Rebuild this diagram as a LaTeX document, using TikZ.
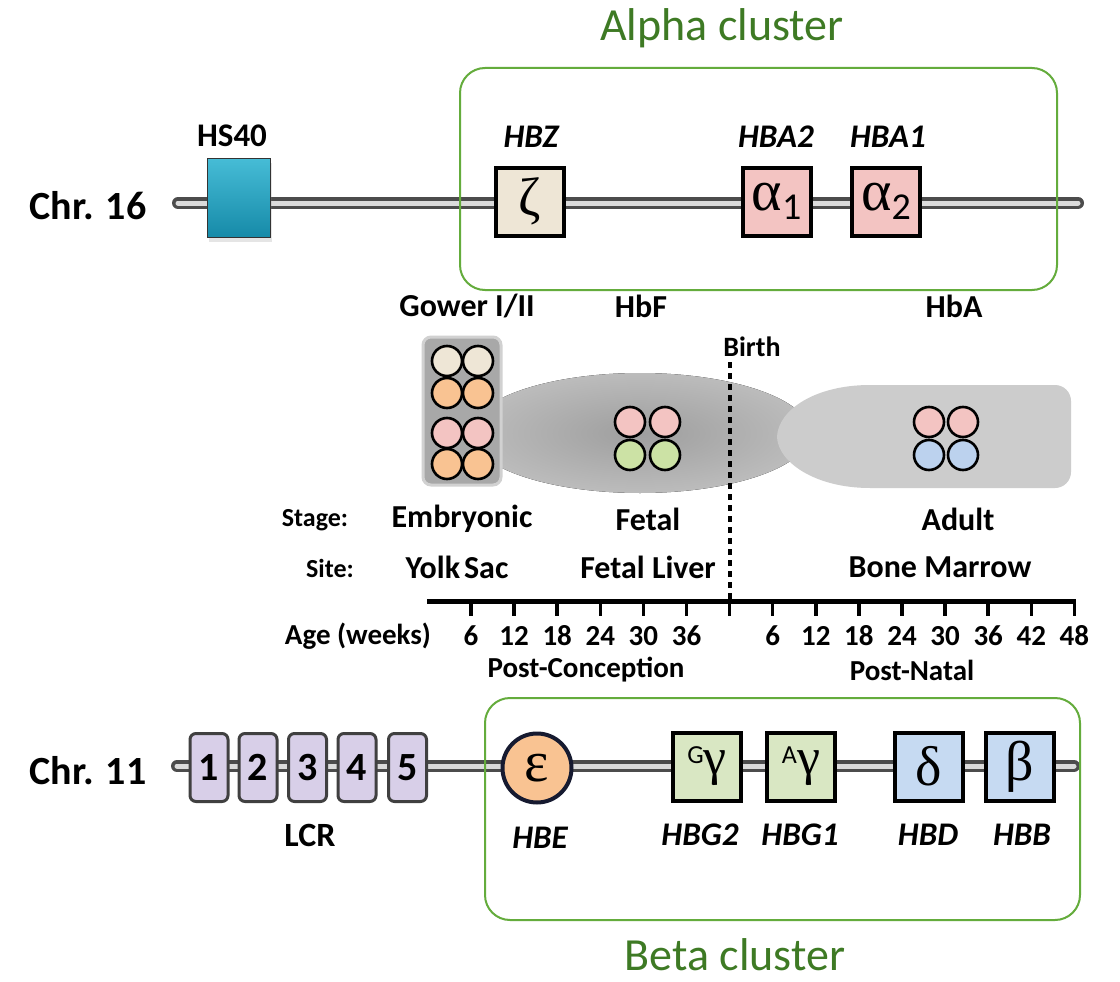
\documentclass[tikz,border=0pt]{standalone}
\usepackage{fontspec}
\setmainfont{Carlito}
\newfontfamily\grk{Liberation Serif}
\usetikzlibrary{shadows,calc}
\newcommand\fsz[1]{\fontsize{#1}{#1}\selectfont}
\definecolor{clgreen}{RGB}{100,172,60}
\definecolor{cltext}{RGB}{62,122,36}
\definecolor{zbeige}{RGB}{238,230,214}
\definecolor{apink}{RGB}{243,196,194}
\definecolor{gorange}{RGB}{249,195,146}
\definecolor{ggreen}{RGB}{217,231,195}
\definecolor{cgreen}{RGB}{204,226,165}
\definecolor{bblue}{RGB}{198,218,242}
\definecolor{cblue}{RGB}{188,210,238}
\definecolor{lav}{RGB}{216,207,232}
\definecolor{teal1}{RGB}{70,188,214}
\definecolor{teal2}{RGB}{22,138,168}
\definecolor{navy}{RGB}{22,26,48}
\pgfdeclareradialshading{fetalshade}{\pgfpoint{0bp}{0bp}}{color(0bp)=(black!38); color(30bp)=(black!24); color(50bp)=(black!10)}
\begin{document}
\begin{tikzpicture}[x=1pt,y=-1pt,
  chrout/.style={line width=12pt, draw=black!70, line cap=round},
  chrin/.style={line width=5pt, draw=black!14, line cap=round},
  gene/.style={draw=black, line width=4pt, minimum width=68pt, minimum height=68pt, inner sep=0pt},
  lcrbox/.style={draw=black!75, line width=3pt, rounded corners=6pt, fill=lav, minimum width=38pt, minimum height=68pt, inner sep=0pt, font=\bfseries\fsz{40}},
  cluster/.style={draw=clgreen, line width=2pt, rounded corners=25pt},
  cltitle/.style={text=cltext, font=\fsz{46}, inner sep=0pt},
  chrlbl/.style={font=\bfseries\fsz{40}},
  lbl/.style={font=\bfseries\fsz{32}},
  slbl/.style={font=\bfseries\fsz{26}},
  tlbl/.style={font=\bfseries\fsz{29}},
  ilbl/.style={font=\bfseries\itshape\fsz{33}},
  hbc/.style={circle, draw=black, line width=2.6pt, minimum size=30pt, inner sep=0pt},
  birthline/.style={line width=4pt, dash pattern=on 6pt off 5pt},
  axis/.style={line width=5pt},
  tick/.style={line width=3.5pt}
]
\useasboundingbox[fill=white] (0,0) rectangle (1120,982);

% ---------- Chromosome 16 ----------
\coordinate (c16a) at (178,203);
\coordinate (c16b) at (1078,203);
\draw[chrout] (c16a) -- (c16b);
\draw[chrin] (c16a) -- (c16b);
\node[chrlbl] (chr16) at (88,206) {Chr. 16};

\node[draw=black!80, line width=1pt, top color=teal1, bottom color=teal2,
      minimum width=63pt, minimum height=79pt, inner sep=0pt,
      drop shadow={opacity=0.2, shadow xshift=2pt, shadow yshift=-4pt}] (hs40) at (238.5,198) {};
\node[font=\bfseries\fsz{33}] (hs40l) at (232,136) {HS40};

\node[gene, fill=zbeige] (zeta) at (530,201.5) {\grk\fsz{54}ζ};
\node[gene, fill=apink] (a1) at (776.5,201.5) {{\grk\fsz{58}α}{\fsz{38}\raisebox{-9pt}{1}}};
\node[gene, fill=apink] (a2) at (886,201.5) {{\grk\fsz{58}α}{\fsz{38}\raisebox{-9pt}{2}}};
\node[ilbl] (lhbz) at (531,137) {HBZ};
\node[ilbl] (lhba2) at (776,137) {HBA2};
\node[ilbl] (lhba1) at (888,137) {HBA1};

\coordinate (alphaNW) at (460,68);
\coordinate (alphaSE) at (1057,290);
\draw[cluster] (alphaNW) rectangle (alphaSE);
\node[cltitle] (alphat) at (722,28) {Alpha cluster};

% ---------- Hemoglobin types ----------
\node[lbl] (gower) at (467,306) {Gower I/II};
\node[lbl] (hbf) at (641,306) {HbF};
\node[lbl] (hba) at (954,306) {HbA};

\fill[shading=fetalshade] (640,433) ellipse [x radius=170, y radius=60];
\draw[draw=black!18, line width=3pt, fill=black!34, rounded corners=8pt] (423,337) rectangle (501,485);
\fill[black!20] (870,385) [rounded corners=16pt] -- (1071,385) -- (1071,488) [sharp corners] -- (870,488)
   .. controls (815,488) and (778,462) .. (777,437) .. controls (778,410) and (815,385) .. (870,385) -- cycle;

\foreach \n/\x/\y/\c in {e1/447/361/zbeige, e2/478/361/zbeige, e3/447/393/gorange, e4/478/393/gorange,
   e5/447/433/apink, e6/478/433/apink, e7/447/464/gorange, e8/478/464/gorange,
   f1/630/422/apink, f2/665/422/apink, f3/630/455/cgreen, f4/665/455/cgreen,
   h1/929/422/apink, h2/963/422/apink, h3/929/455/cblue, h4/963/455/cblue}
  \node[hbc, fill=\c] (\n) at (\x,\y) {};

% ---------- Birth + timeline ----------
\node[font=\bfseries\fsz{28}] (birth) at (752,347) {Birth};
\coordinate (ax0) at (427,601);
\coordinate (ax1) at (1074.4,601);
\coordinate (birthT) at (729.6,362);
\coordinate (birthB) at (729.6,600);
\draw[birthline] (birthT) -- (birthB);
\draw[axis] (ax0) -- (ax1);
\foreach \k in {0,...,14}
  \draw[tick] ($(471,599)+(43.1*\k,0)$) coordinate (t\k) -- ++(0,17);

\node[slbl] (stage) at (315,520) {Stage:};
\node[lbl] (emb) at (462,519) {Embryonic};
\node[lbl] (fet) at (648,519) {Fetal};
\node[lbl] (adu) at (958,519) {Adult};
\node[slbl] (site) at (330,568) {Site:};
\node[lbl] (yolk) at (457,567) {Yolk\hspace{4pt}Sac};
\node[lbl] (liver) at (648,567) {Fetal Liver};
\node[lbl] (marrow) at (940,567) {Bone Marrow};

\node[tlbl] (age) at (358,636) {Age (weeks)};
\foreach \k/\v in {0/6,1/12,2/18,3/24,4/30,5/36,7/6,8/12,9/18,10/24,11/30,12/36,13/42,14/48}
  \node[tlbl] (n\k) at ($(471,636)+(43.1*\k,0)$) {\v};
\node[tlbl] (pc) at (586,670) {Post-Conception};
\node[tlbl] (pn) at (912,670) {Post-Natal};

% ---------- Chromosome 11 ----------
\coordinate (c11a) at (177,766);
\coordinate (c11b) at (1074,766);
\draw[chrout] (c11a) -- (c11b);
\draw[chrin] (c11a) -- (c11b);
\node[chrlbl] (chr11) at (88,771) {Chr. 11};

\foreach \i/\x in {1/209,2/258,3/307.5,4/357,5/407.5}
  \node[lcrbox] (lcr\i) at (\x,767.5) {\i};
\node[font=\bfseries\fsz{34}] (lcr) at (310,835) {LCR};

\node[circle, draw=navy, line width=4pt, fill=gorange, minimum size=69pt, inner sep=0pt] (eps) at (537,768) {\grk\fsz{58}ε};
\node[gene, fill=ggreen] (gg) at (707,766.5) {{\fsz{26}\raisebox{11pt}{G}}{\grk\fsz{52}γ}};
\node[gene, fill=ggreen] (ag) at (801,766.5) {{\fsz{26}\raisebox{11pt}{A}}{\grk\fsz{52}γ}};
\node[gene, fill=bblue] (dl) at (928.5,766.5) {\grk\fsz{56}δ};
\node[gene, fill=bblue] (bt) at (1020,766.5) {\grk\fsz{56}β};

\node[ilbl] (lhbe) at (540,838) {HBE};
\node[ilbl] (lhbg2) at (700,835) {HBG2};
\node[ilbl] (lhbg1) at (800,835) {HBG1};
\node[ilbl] (lhbd) at (928,835) {HBD};
\node[ilbl] (lhbb) at (1022,835) {HBB};

\coordinate (betaNW) at (485,698);
\coordinate (betaSE) at (1080,920);
\draw[cluster] (betaNW) rectangle (betaSE);
\node[cltitle] (betat) at (735,955) {Beta cluster};
\end{tikzpicture}
\end{document}
